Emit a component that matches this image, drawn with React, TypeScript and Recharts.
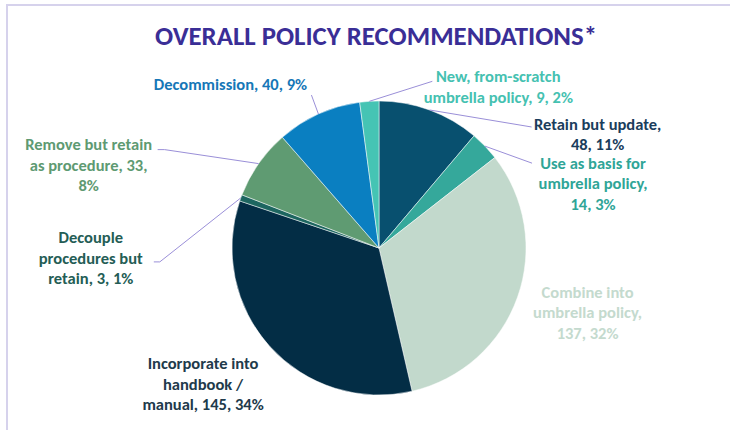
import React from 'react';
import { PieChart, Pie, Cell } from 'recharts';

const title = 'OVERALL POLICY RECOMMENDATIONS*';
const categories = [
  'Retain but update',
  'Use as basis for umbrella policy',
  'Combine into umbrella policy',
  'Incorporate into handbook / manual',
  'Decouple procedures but retain',
  'Remove but retain as procedure',
  'Decommission',
  'New, from-scratch umbrella policy',
];
const counts = [48, 14, 137, 145, 3, 33, 40, 9];

const sliceColors = ['#08506F', '#35A89B', '#C2D9CC', '#032D45', '#1D6660', '#5F9B72', '#0A7FC1', '#45C4B4'];
const labelColors = ['#1A3D5C', '#2FA597', '#C4DACE', '#213A4B', '#245D55', '#5E9A72', '#1677B7', '#45C1B1'];
// words per label line
const lineBreaks = [[3, 2], [4, 2, 2], [2, 2, 2], [2, 2, 3], [1, 2, 3], [3, 3, 1], [3], [2, 4]];
// label centre offset from the slice's outer mid point
const labelOffsets = [[168, 24], [108, 37], [70, 15], [-67, 37], [-150, 60], [-170, 1], [-88, -30], [129, -15]];
const leaderPoints: (number[][] | null)[] = [
  [[102, 17]],
  [[47, 17]],
  null,
  null,
  [[-81, 64], [-87, 64]],
  [[-94, -14], [-101, -14]],
  [[-7, -19]],
  [[63, -20]],
];

const FONT = 'Carlito, Lato, "Open Sans", sans-serif';
const total = counts.reduce((a, b) => a + b, 0);
const data = categories.map((name, i) => ({ name, value: counts[i] }));
const RADIAN = Math.PI / 180;

const renderLabel = (props: any) => {
  const { cx, cy, midAngle, outerRadius, index, value, name } = props;
  const ex = cx + outerRadius * Math.cos(-midAngle * RADIAN);
  const ey = cy + outerRadius * Math.sin(-midAngle * RADIAN);
  const pct = Math.round((value / total) * 100);
  const words = `${name}, ${value}, ${pct}%`.split(' ');
  const lines: string[] = [];
  let k = 0;
  for (const n of lineBreaks[index]) {
    lines.push(words.slice(k, k + n).join(' '));
    k += n;
  }
  const [dx, dy] = labelOffsets[index];
  const lx = ex + dx;
  const ly = ey + dy;
  const lh = 20.5;
  const lp = leaderPoints[index];
  return (
    <g key={`lbl-${index}`}>
      {lp && (
        <polyline
          points={[[ex, ey], ...lp.map(([px, py]) => [ex + px, ey + py])].map((p) => p.join(',')).join(' ')}
          fill="none"
          stroke="#9A8FD8"
          strokeWidth={1}
        />
      )}
      <text
        x={lx}
        y={ly}
        textAnchor="middle"
        fill={labelColors[index]}
        style={{ fontFamily: FONT, fontWeight: 700, fontSize: 16.5 }}
      >
        {lines.map((t, i) => (
          <tspan key={i} x={lx} y={ly + (i - (lines.length - 1) / 2) * lh} dominantBaseline="central">
            {t}
          </tspan>
        ))}
      </text>
    </g>
  );
};

export default function App() {
  return (
    <div style={{ position: 'absolute', left: 0, top: 0, width: 730, height: 430, background: '#fff', overflow: 'hidden' }}>
      <div style={{ position: 'absolute', left: 6, top: 4, right: 0, height: 2, background: '#D6D2EC' }} />
      <div style={{ position: 'absolute', left: 6, top: 4, bottom: 0, width: 2, background: '#D6D2EC' }} />
      <svg width={730} height={60} style={{ position: 'absolute', left: 0, top: 0 }}>
        <text
          x={376}
          y={45}
          textAnchor="middle"
          fill="#3A2E96"
          textLength={442}
          lengthAdjust="spacingAndGlyphs"
          style={{ fontFamily: FONT, fontWeight: 700, fontSize: 27 }}
        >
          {title}
        </text>
      </svg>
      <div style={{ position: 'absolute', left: 0, top: 0 }}>
        <PieChart width={730} height={430}>
          <Pie
            data={data}
            dataKey="value"
            nameKey="name"
            cx={374}
            cy={243}
            outerRadius={147}
            startAngle={90}
            endAngle={-270}
            stroke="#ffffff"
            strokeWidth={0.5}
            label={renderLabel}
            labelLine={false}
            isAnimationActive={false}
          >
            {data.map((d, i) => (
              <Cell key={d.name} fill={sliceColors[i]} />
            ))}
          </Pie>
        </PieChart>
      </div>
    </div>
  );
}
